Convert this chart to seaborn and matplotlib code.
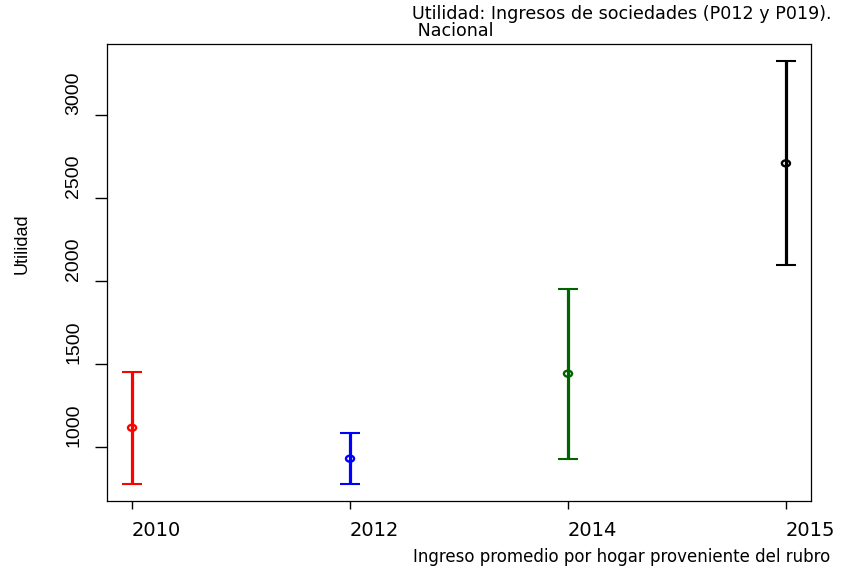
import matplotlib
matplotlib.use("Agg")
import matplotlib.pyplot as plt
from matplotlib.path import Path
import seaborn as sns
import pandas as pd
import numpy as np

years = ["2010", "2012", "2014", "2015"]
means = [1116, 930, 1442, 2709]
lower = [775, 775, 930, 2096]
upper = [1454, 1086, 1954, 3325]
colors = ["#FF0000", "#0000FF", "#006400", "#000000"]
y_ticks = [1000, 1500, 2000, 2500, 3000]

sns.set_theme(style="white")
plt.rcParams['font.family'] = ['DejaVu Sans']
for k in ['text.color', 'axes.labelcolor', 'xtick.color', 'ytick.color', 'axes.edgecolor']:
    plt.rcParams[k] = 'black'

ARIAL = ['Liberation Sans', 'DejaVu Sans']

df = pd.DataFrame({"year": years, "mean": means, "lo": lower, "hi": upper})
df["pos"] = np.arange(len(df))

fig = plt.figure(figsize=(8.42, 5.69), dpi=100)
ax = fig.add_axes([107 / 842, 1 - 501 / 569, (811 - 107) / 842, (501 - 44) / 569])

# slightly wide ellipse marker (open circle look of reference)
t = np.linspace(0, 2 * np.pi, 60)
ell = Path(np.column_stack([1.35 * np.cos(t), np.sin(t)]), closed=True)

sns.scatterplot(data=df, x="pos", y="mean", hue="year", palette=colors, ax=ax,
                marker=ell, s=34, linewidth=1.7, legend=False, zorder=5)
pts = ax.collections[0]
pts.set_edgecolors(pts.get_facecolors())
pts.set_facecolors("none")

for i, r in df.iterrows():
    ax.errorbar(r["pos"], r["mean"],
                yerr=[[r["mean"] - r["lo"]], [r["hi"] - r["mean"]]],
                fmt="none", ecolor=colors[i], elinewidth=2.3, capsize=7.2, capthick=1.5,
                zorder=3)

ax.set_xlim(-0.115, 3.115)
ax.set_ylim(675, 3428)
ax.set_xticks(df["pos"])
ax.set_xticklabels(years, fontsize=14)
ax.set_yticks(y_ticks)
ax.set_yticklabels([str(v) for v in y_ticks], fontsize=14, family=ARIAL)
ax.tick_params(axis="x", direction="out", length=5.8, width=1, bottom=True, pad=8.6)
ax.tick_params(axis="y", direction="out", length=8.6, width=1, left=True, pad=12.2)
for lab in ax.get_xticklabels():
    lab.set_ha("left")
for lab in ax.get_yticklabels():
    lab.set_rotation(90)
    lab.set_rotation_mode("anchor")
    lab.set_ha("left")
    lab.set_va("baseline")
for s in ax.spines.values():
    s.set_visible(True)
    s.set_color("black")
    s.set_linewidth(0.9)
ax.set_xlabel("")
ax.set_ylabel("")

fig.text(412 / 842, 1 - 5 / 569, "Utilidad: Ingresos de sociedades (P012 y P019).\n Nacional",
         ha="left", va="top", fontsize=12.6, linespacing=0.95)
fig.text(413 / 842, 1 - 562 / 569, "Ingreso promedio por hogar proveniente del rubro",
         ha="left", va="baseline", fontsize=12)
fig.text(22 / 842, 1 - 244 / 569, "Utilidad", rotation=90, ha="center", va="center",
         fontsize=13, family=ARIAL)

fig.savefig("out.png", dpi=100)
